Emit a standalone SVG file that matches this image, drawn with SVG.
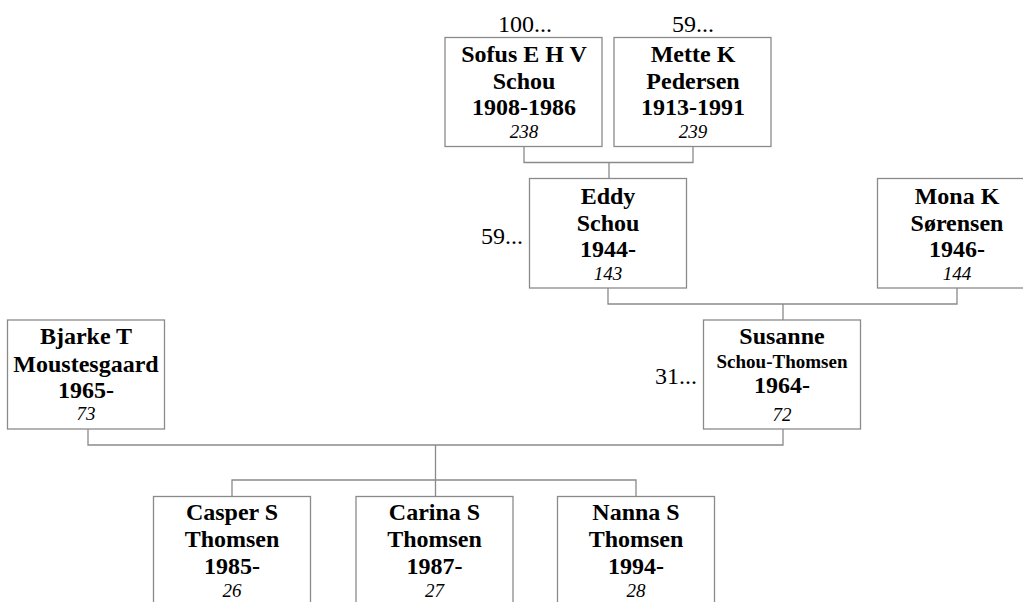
<svg xmlns="http://www.w3.org/2000/svg" width="1023" height="602" viewBox="0 0 1023 602">
<style>
.box{fill:#fff;stroke:#8a8a8a;stroke-width:1.3}
.ln{fill:none;stroke:#8a8a8a;stroke-width:1.3}
text{font-family:"Liberation Serif","Times New Roman",serif;fill:#000;text-anchor:middle}
.b{font-weight:bold;font-size:24px}
.s{font-weight:bold;font-size:19px}
.i{font-style:italic;font-size:19px}
.r{font-size:24px}
.re{font-size:24px;text-anchor:end}
</style>
<rect width="1023" height="602" fill="#fff"/>
<g id="connectors">
<path class="ln" d="M524,147 V162.5 H693 V147 M609,162.5 V178"/>
<path class="ln" d="M608,288 V304 H957 V288 M783,304 V320"/>
<path class="ln" d="M88,429 V445 H783 V429 M435.5,445 V480"/>
<path class="ln" d="M232,496 V480 H636 V496 M435.5,480 V496"/>
</g>
<g id="n238">
<text class="r" x="525" y="32">100...</text>
<rect class="box" x="445" y="37.5" width="157" height="109"/>
<text class="b" x="524" y="62">Sofus E H V</text>
<text class="b" x="524" y="88.5">Schou</text>
<text class="b" x="524" y="115">1908-1986</text>
<text class="i" x="524" y="137.5">238</text>
</g>
<g id="n239">
<text class="r" x="693" y="32">59...</text>
<rect class="box" x="614" y="37.5" width="157" height="109"/>
<text class="b" x="693" y="62">Mette K</text>
<text class="b" x="693" y="88.5">Pedersen</text>
<text class="b" x="693" y="115">1913-1991</text>
<text class="i" x="693" y="137.5">239</text>
</g>
<g id="n143">
<text class="re" x="523" y="244">59...</text>
<rect class="box" x="529.5" y="178.5" width="157" height="109.5"/>
<text class="b" x="608" y="203.5">Eddy</text>
<text class="b" x="608" y="230.5">Schou</text>
<text class="b" x="608" y="256.5">1944-</text>
<text class="i" x="608" y="279.5">143</text>
</g>
<g id="n144">
<rect class="box" x="877.5" y="178.5" width="157" height="109.5"/>
<text class="b" x="957" y="203.5">Mona K</text>
<text class="b" x="957" y="230.5">Sørensen</text>
<text class="b" x="957" y="256.5">1946-</text>
<text class="i" x="957" y="279.5">144</text>
</g>
<g id="n72">
<text class="re" x="697" y="383.5">31...</text>
<rect class="box" x="703.5" y="320" width="157" height="109"/>
<text class="b" x="782" y="344">Susanne</text>
<text class="s" x="782" y="367.5">Schou-Thomsen</text>
<text class="b" x="782" y="393">1964-</text>
<text class="i" x="782" y="421">72</text>
</g>
<g id="n73">
<rect class="box" x="7.5" y="320" width="157" height="109"/>
<text class="b" x="86" y="343.5">Bjarke T</text>
<text class="b" x="86" y="371.5">Moustesgaard</text>
<text class="b" x="86" y="397.5">1965-</text>
<text class="i" x="86" y="420">73</text>
</g>
<g id="n26">
<rect class="box" x="153.5" y="496.5" width="157" height="110"/>
<text class="b" x="232" y="520">Casper S</text>
<text class="b" x="232" y="547">Thomsen</text>
<text class="b" x="232" y="573.5">1985-</text>
<text class="i" x="232" y="597">26</text>
</g>
<g id="n27">
<rect class="box" x="356" y="496.5" width="157" height="110"/>
<text class="b" x="434.5" y="520">Carina S</text>
<text class="b" x="434.5" y="547">Thomsen</text>
<text class="b" x="434.5" y="573.5">1987-</text>
<text class="i" x="434.5" y="597">27</text>
</g>
<g id="n28">
<rect class="box" x="557.5" y="496.5" width="157" height="110"/>
<text class="b" x="636" y="520">Nanna S</text>
<text class="b" x="636" y="547">Thomsen</text>
<text class="b" x="636" y="573.5">1994-</text>
<text class="i" x="636" y="597">28</text>
</g>
</svg>
